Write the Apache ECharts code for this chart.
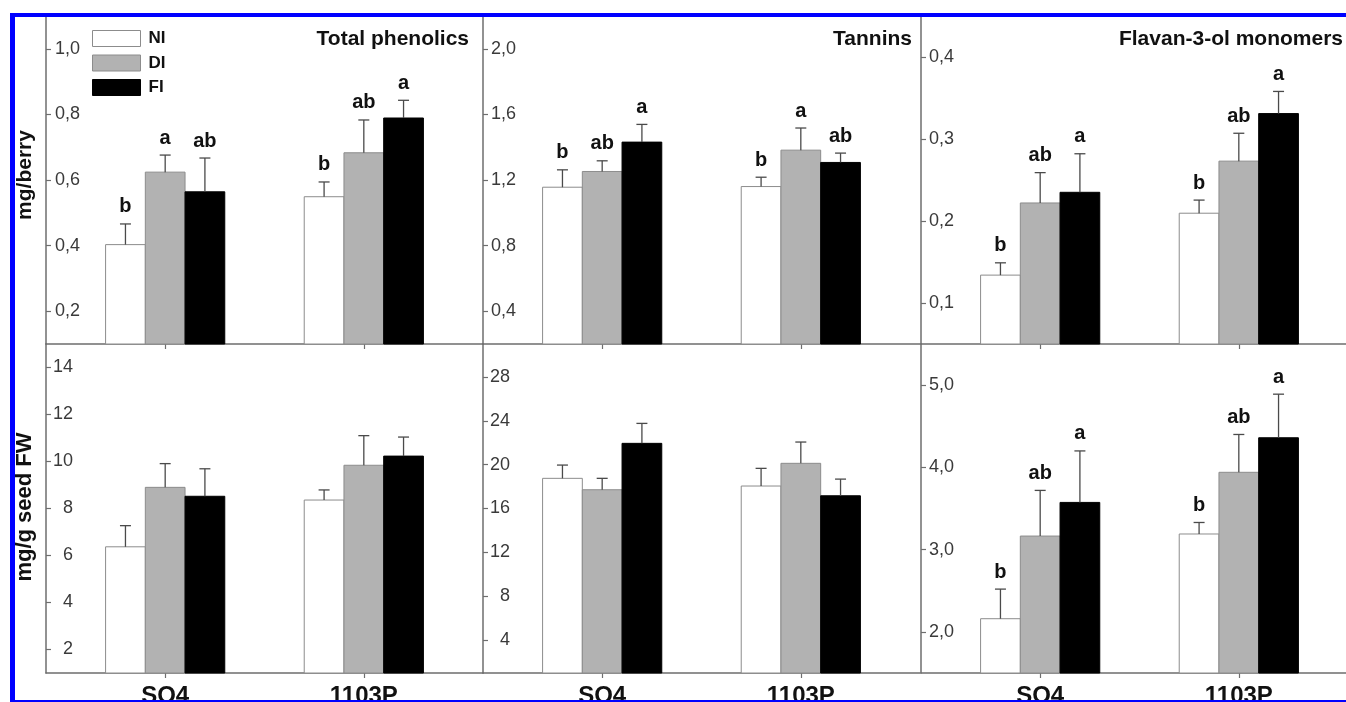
<!DOCTYPE html>
<html>
<head>
<meta charset="utf-8">
<script src="https://cdn.jsdelivr.net/npm/echarts@6/dist/echarts.min.js"></script>
<style>
html,body{margin:0;padding:0;background:#fff;}
#chart{width:1346px;height:702px;}
</style>
</head>
<body>
<div id="chart"></div>
<script>
// ---------- DATA ----------
const groups = ['SO4', '1103P'];
const treatments = ['NI', 'DI', 'FI'];

// mg/berry row  ([group][treatment])
const tpBerryMean = [[0.403, 0.624, 0.564], [0.549, 0.683, 0.789]];
const tpBerryErr = [[0.063, 0.052, 0.103], [0.045, 0.100, 0.054]];
const tpBerryLetters = [['b', 'a', 'ab'], ['b', 'ab', 'a']];
const tpBerryTicks = [0.2, 0.4, 0.6, 0.8, 1.0];

const tanBerryMean = [[1.156, 1.252, 1.431], [1.160, 1.382, 1.307]];
const tanBerryErr = [[0.106, 0.065, 0.108], [0.057, 0.135, 0.057]];
const tanBerryLetters = [['b', 'ab', 'a'], ['b', 'a', 'ab']];
const tanBerryTicks = [0.4, 0.8, 1.2, 1.6, 2.0];

const flavBerryMean = [[0.134, 0.222, 0.235], [0.2095, 0.273, 0.331]];
const flavBerryErr = [[0.015, 0.037, 0.047], [0.016, 0.034, 0.027]];
const flavBerryLetters = [['b', 'ab', 'a'], ['b', 'ab', 'a']];
const flavBerryTicks = [0.1, 0.2, 0.3, 0.4];

// mg/g seed FW row
const tpSeedMean = [[6.37, 8.90, 8.52], [8.36, 9.84, 10.23]];
const tpSeedErr = [[0.90, 1.01, 1.17], [0.43, 1.26, 0.81]];
const tpSeedTicks = [2, 4, 6, 8, 10, 12, 14];

const tanSeedMean = [[18.75, 17.71, 21.94], [18.05, 20.12, 17.16]];
const tanSeedErr = [[1.21, 1.04, 1.82], [1.61, 1.94, 1.52]];
const tanSeedTicks = [4, 8, 12, 16, 20, 24, 28];

const flavSeedMean = [[2.16, 3.165, 3.574], [3.19, 3.94, 4.36]];
const flavSeedErr = [[0.36, 0.555, 0.626], [0.14, 0.46, 0.53]];
const flavSeedLetters = [['b', 'ab', 'a'], ['b', 'ab', 'a']];
const flavSeedTicks = [2.0, 3.0, 4.0, 5.0];

const panelTitles = ['Total phenolics', 'Tannins', 'Flavan-3-ol monomers'];
const rowTitles = ['mg/berry', 'mg/g seed FW'];

// ---------- LAYOUT / STYLE ----------
const FONT = '"Liberation Sans", Arial, Helvetica, sans-serif';
const fills = ['#ffffff', '#b2b2b2', '#000000'];
const strokes = ['#8c8c8c', '#8c8c8c', '#000000'];
const offsets = [-0.2, 0, 0.2];
const barUnits = 0.2;
const axisColor = '#6e6e6e';

const panels = [
  {left: 46, top: 16, height: 328, min: 0.1, max: 1.1, mean: tpBerryMean, err: tpBerryErr, letters: tpBerryLetters, ticks: tpBerryTicks, dec: 1, margin: 34, bottom: false},
  {left: 483, top: 16, height: 328, min: 0.2, max: 2.2, mean: tanBerryMean, err: tanBerryErr, letters: tanBerryLetters, ticks: tanBerryTicks, dec: 1, margin: 33, bottom: false},
  {left: 921, top: 16, height: 328, min: 0.05, max: 0.45, mean: flavBerryMean, err: flavBerryErr, letters: flavBerryLetters, ticks: flavBerryTicks, dec: 1, margin: 33, bottom: false},
  {left: 46, top: 344, height: 329, min: 1, max: 15, mean: tpSeedMean, err: tpSeedErr, letters: null, ticks: tpSeedTicks, dec: 0, margin: 27, bottom: true},
  {left: 483, top: 344, height: 329, min: 1, max: 31, mean: tanSeedMean, err: tanSeedErr, letters: null, ticks: tanSeedTicks, dec: 0, margin: 27, bottom: true},
  {left: 921, top: 344, height: 329, min: 1.5, max: 5.5, mean: flavSeedMean, err: flavSeedErr, letters: flavSeedLetters, ticks: flavSeedTicks, dec: 1, margin: 33, bottom: true}
];

function makeRender(letters, t, yMin) {
  return function (params, api) {
    const gi = params.dataIndex;
    const xv = api.value(0) + offsets[t];
    const m = api.value(1), e = api.value(2);
    const pTop = api.coord([xv, m]);
    const pBase = api.coord([xv, yMin]);
    const pErr = api.coord([xv, m + e]);
    const w = api.size([barUnits, 0])[0];
    const children = [
      {type: 'rect', shape: {x: pTop[0] - w / 2, y: pTop[1], width: w, height: pBase[1] - pTop[1]},
        style: {fill: fills[t], stroke: strokes[t], lineWidth: 1}},
      {type: 'line', shape: {x1: pTop[0], y1: pTop[1], x2: pTop[0], y2: pErr[1]},
        style: {stroke: '#4a4a4a', lineWidth: 1.3}},
      {type: 'line', shape: {x1: pTop[0] - 5.5, y1: pErr[1], x2: pTop[0] + 5.5, y2: pErr[1]},
        style: {stroke: '#4a4a4a', lineWidth: 1.3}}
    ];
    if (letters) {
      children.push({type: 'text', x: pTop[0], y: pErr[1] - 17,
        style: {text: letters[gi][t], textAlign: 'center', textVerticalAlign: 'middle',
          font: 'bold 20px ' + FONT, fill: '#111'}});
    }
    return {type: 'group', children: children};
  };
}

const grids = [], xAxes = [], yAxes = [], series = [];
panels.forEach((p, i) => {
  grids.push({left: p.left, top: p.top, width: 437, height: p.height, containLabel: false, outerBoundsMode: 'none'});
  xAxes.push({
    type: 'value', gridIndex: i, min: -0.6, max: 1.6,
    splitLine: {show: false},
    axisLine: {show: true, onZero: false, lineStyle: {color: axisColor, width: 1.5}},
    axisTick: {show: true, customValues: [0, 1], length: 5, lineStyle: {color: axisColor, width: 1.2}},
    axisLabel: {show: p.bottom, customValues: [0, 1], margin: 11,
      formatter: v => groups[Math.round(v)] || '',
      fontSize: 24, fontWeight: 'bold', color: '#111', fontFamily: FONT}
  });
  yAxes.push({
    type: 'value', gridIndex: i, min: p.min, max: p.max,
    splitLine: {show: false},
    axisLine: {show: true, onZero: false, lineStyle: {color: axisColor, width: 1.5}},
    axisTick: {show: true, inside: true, length: 5, customValues: p.ticks, lineStyle: {color: axisColor, width: 1.2}},
    axisLabel: {show: true, inside: true, align: 'right', margin: p.margin, customValues: p.ticks,
      formatter: v => p.dec ? v.toFixed(p.dec).replace('.', ',') : String(Math.round(v)),
      fontSize: 18, color: '#3a3a3a', fontFamily: FONT}
  });
  treatments.forEach((tn, t) => {
    series.push({
      type: 'custom', name: tn, xAxisIndex: i, yAxisIndex: i, silent: true, clip: false,
      itemStyle: {color: fills[t], borderColor: strokes[t]},
      encode: {x: 0, y: 1},
      data: groups.map((g, gi) => [gi, p.mean[gi][t], p.err[gi][t]]),
      renderItem: makeRender(p.letters, t, p.min)
    });
  });
});

const titleRight = [469, 912, 1343];
const graphics = [];
panelTitles.forEach((txt, i) => {
  graphics.push({type: 'text', x: titleRight[i], y: 39, z: 50,
    style: {text: txt, textAlign: 'right', textVerticalAlign: 'middle', font: 'bold 21px ' + FONT, fill: '#111'}});
});
graphics.push({type: 'text', x: 25, y: 175, rotation: Math.PI / 2, z: 50,
  style: {text: rowTitles[0], textAlign: 'center', textVerticalAlign: 'middle', font: 'bold 21px ' + FONT, fill: '#111'}});
graphics.push({type: 'text', x: 25, y: 507, rotation: Math.PI / 2, z: 50,
  style: {text: rowTitles[1], textAlign: 'center', textVerticalAlign: 'middle', font: 'bold 22px ' + FONT, fill: '#111'}});
// blue frame
graphics.push({type: 'rect', z: 100, shape: {x: 10, y: 13, width: 1336, height: 4}, style: {fill: '#0000ff'}});
graphics.push({type: 'rect', z: 100, shape: {x: 10, y: 13, width: 5, height: 689}, style: {fill: '#0000ff'}});
graphics.push({type: 'rect', z: 100, shape: {x: 10, y: 700, width: 1336, height: 2}, style: {fill: '#0000ff'}});
// white mask above / left of frame
graphics.push({type: 'rect', z: 99, shape: {x: 0, y: 0, width: 1346, height: 13}, style: {fill: '#ffffff'}});
graphics.push({type: 'rect', z: 99, shape: {x: 0, y: 0, width: 10, height: 702}, style: {fill: '#ffffff'}});

const option = {
  animation: false,
  backgroundColor: '#ffffff',
  textStyle: {fontFamily: FONT},
  grid: grids,
  xAxis: xAxes,
  yAxis: yAxes,
  legend: {
    left: 87, top: 25, orient: 'vertical', itemWidth: 48, itemHeight: 16, itemGap: 7.5,
    selectedMode: false,
    data: treatments.map((t, i) => ({name: t, icon: 'rect',
      itemStyle: {color: fills[i], borderColor: strokes[i], borderWidth: 1}})),
    textStyle: {fontSize: 17, fontWeight: 'bold', color: '#111', fontFamily: FONT, padding: [0, 0, 0, 3], lineHeight: 16}
  },
  graphic: graphics,
  series: series
};

const chart = echarts.init(document.getElementById('chart'), null, {renderer: 'canvas'});
chart.setOption(option);
</script>
</body>
</html>
